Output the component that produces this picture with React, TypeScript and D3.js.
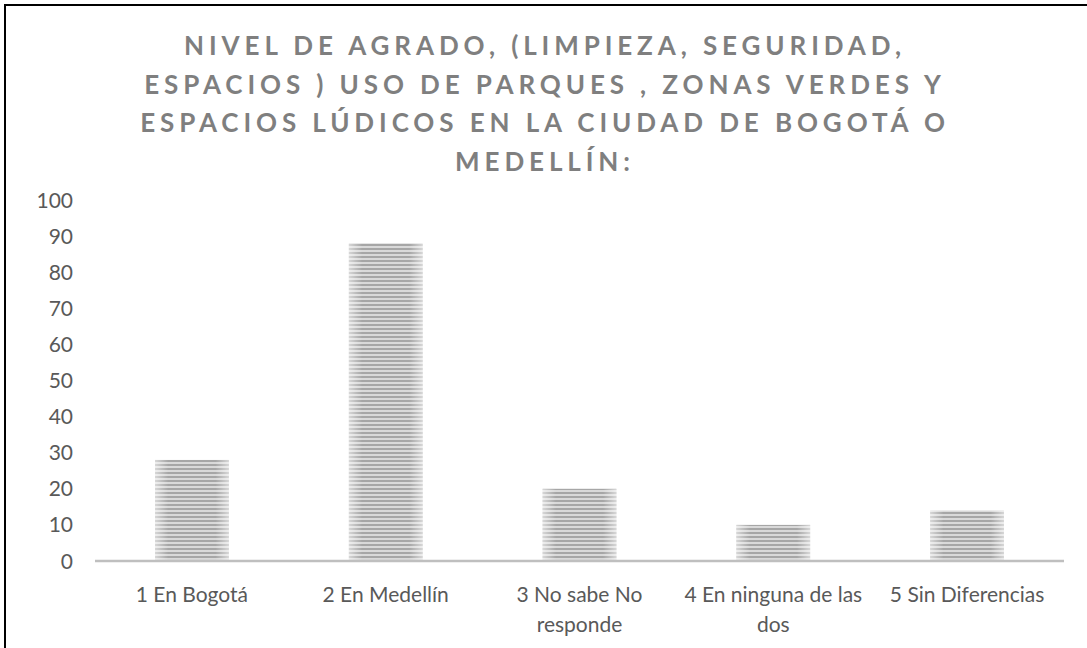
import React from "react";
import * as d3 from "d3";

const categories: string[][] = [
  ["1 En Bogotá"],
  ["2 En Medellín"],
  ["3 No sabe No", "responde"],
  ["4 En ninguna de las", "dos"],
  ["5 Sin Diferencias"],
];
const values: number[] = [28, 88, 20, 10, 14];
const yTicks: number[] = [0, 10, 20, 30, 40, 50, 60, 70, 80, 90, 100];
const titleLines: string[] = [
  "NIVEL DE AGRADO, (LIMPIEZA, SEGURIDAD,",
  "ESPACIOS ) USO DE PARQUES , ZONAS VERDES Y",
  "ESPACIOS LÚDICOS EN LA CIUDAD DE BOGOTÁ O",
  "MEDELLÍN:",
];

const W = 1087;
const H = 648;
const FONT = "Lato, 'Open Sans', sans-serif";

export default function App() {
  const keys = categories.map((c) => c.join(" "));
  const x = d3.scaleBand<string>().domain(keys).range([95, 1064]).paddingInner(0.62).paddingOuter(0.31);
  const y = d3.scaleLinear().domain([0, 100]).range([561, 200]);

  return (
    <svg width={W} height={H} style={{ position: "absolute", left: 0, top: 0, background: "#fff" }}>
      <defs>
        <pattern id="stripes" patternUnits="userSpaceOnUse" width={8} height={4}>
          <rect x={0} y={0} width={8} height={4} fill="#d9d9d9" />
          <rect x={0} y={0} width={8} height={2} fill="#a6a6a6" />
        </pattern>
        <linearGradient id="shine" x1="0" x2="1" y1="0" y2="0">
          <stop offset="0%" stopColor="#fff" stopOpacity={0.55} />
          <stop offset="18%" stopColor="#fff" stopOpacity={0} />
          <stop offset="82%" stopColor="#fff" stopOpacity={0} />
          <stop offset="100%" stopColor="#fff" stopOpacity={0.55} />
        </linearGradient>
      </defs>
      <rect x={0} y={0} width={W} height={H} fill="#fff" />
      <rect x={5} y={5} width={1100} height={700} fill="none" stroke="#000" strokeWidth={2} />

      {titleLines.map((t, i) => (
        <text
          key={i}
          x={545}
          y={55 + i * 38.5}
          textAnchor="middle"
          fontFamily={FONT}
          fontWeight={700}
          fontSize={26}
          letterSpacing={4.9}
          fill="#7f7f7f"
        >
          {t}
        </text>
      ))}

      {yTicks.map((t) => (
        <text
          key={t}
          x={73}
          y={y(t)}
          dy="0.36em"
          textAnchor="end"
          fontFamily={FONT}
          fontSize={21}
          fill="#595959"
        >
          {t}
        </text>
      ))}

      {values.map((v, i) => {
        const k = keys[i];
        const bx = x(k)!;
        const by = y(v);
        const bh = y(0) - by;
        return (
          <g key={k}>
            <rect x={bx} y={by} width={x.bandwidth()} height={bh} fill="url(#stripes)" />
            <rect x={bx} y={by} width={x.bandwidth()} height={bh} fill="url(#shine)" />
          </g>
        );
      })}

      <line x1={95} x2={1064} y1={y(0)} y2={y(0)} stroke="#bfbfbf" strokeWidth={2.5} />

      {categories.map((lines, i) => {
        const cx = x(keys[i])! + x.bandwidth() / 2;
        return (
          <text key={i} textAnchor="middle" fontFamily={FONT} fontSize={21} fill="#595959">
            {lines.map((l, j) => (
              <tspan key={j} x={cx} y={602 + j * 30}>
                {l}
              </tspan>
            ))}
          </text>
        );
      })}
    </svg>
  );
}
